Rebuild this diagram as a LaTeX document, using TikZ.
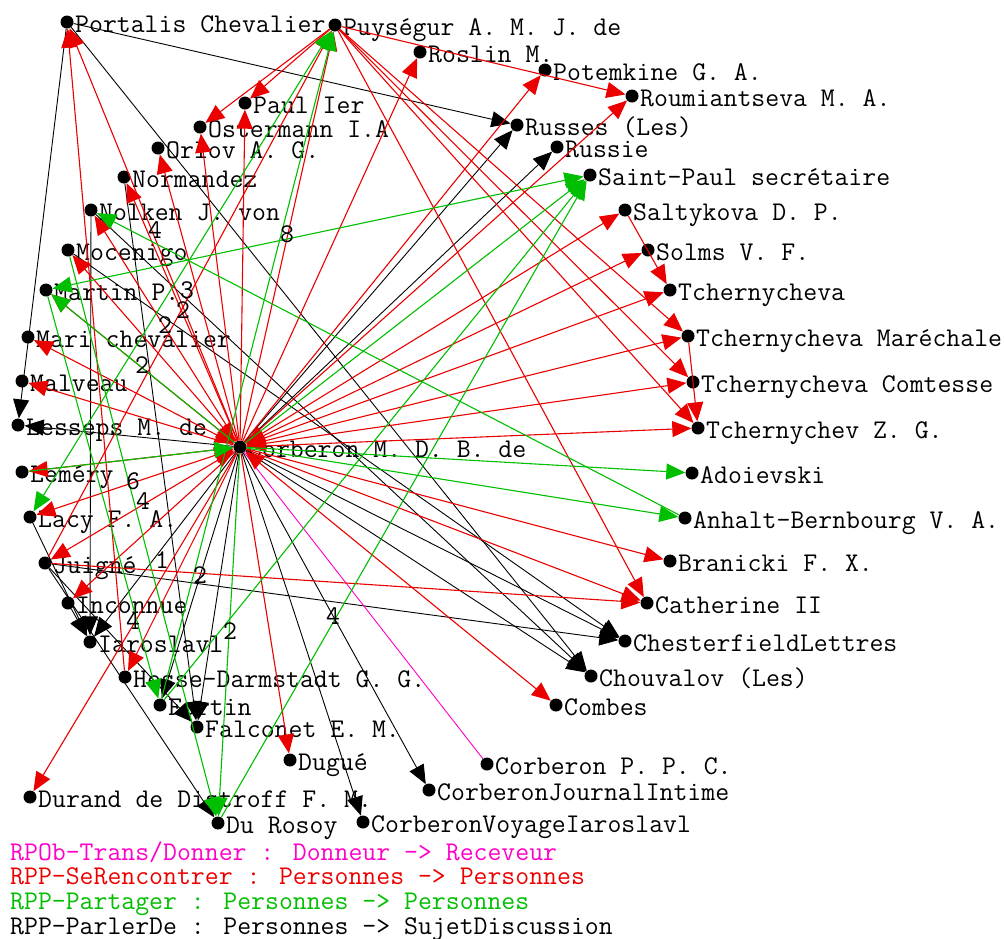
\documentclass[tikz,border=0pt]{standalone}
\usepackage{fontspec}
\usetikzlibrary{arrows.meta}
\definecolor{cred}{RGB}{235,0,0}
\definecolor{cgreen}{RGB}{0,190,0}
\definecolor{cmag}{RGB}{255,0,200}
\tikzset{
  dot/.style={circle,fill=black,inner sep=0pt,minimum size=13pt},
  lbl/.style={anchor=base west,inner sep=0pt,font=\ttfamily\fontsize{27}{27}\selectfont},
  num/.style={inner sep=0pt,font=\ttfamily\fontsize{27}{27}\selectfont},
  leg/.style={anchor=base west,inner sep=0pt,font=\ttfamily\fontsize{27}{27}\selectfont},
  tipb/.style={-{Triangle[length=19pt,width=16pt]}},
  tipbb/.style={{Triangle[length=19pt,width=16pt]}-{Triangle[length=19pt,width=16pt]}},
  er/.style={draw=cred,line width=1.1pt,tipb},
  erb/.style={draw=cred,line width=1.1pt,tipbb},
  eg/.style={draw=cgreen,line width=1.1pt,tipb},
  egb/.style={draw=cgreen,line width=1.1pt,tipbb},
  ek/.style={draw=black,line width=0.9pt,tipb},
  em/.style={draw=cmag,line width=0.9pt},
}
\begin{document}
\begin{tikzpicture}[x=1pt,y=-1pt]
\useasboundingbox (0,0) rectangle (1004,938);
% ---------- dots ----------
\foreach \n/\x/\y in {portalis/67/22, puysegur/335/25, roslin/420/52, potemkine/545/70,
  roumiantseva/632/96, paul/245/103, ostermann/200/127, orlov/158/148, normandez/124/177,
  nolken/91/210, mocenigo/68/250, martin/46/290, mari/28/337, malveau/22/381,
  lesseps/18/425, lemery/22/472, lacy/30/517, juigne/45/563, inconnue/68/603,
  iaroslavl/90/642, hesse/125/677, fortin/160/705, falconet/197/727, dugue/290/760,
  durand/30/797, durosoy/218/823, cvoyage/363/822, cjournal/429/790, cppc/487/764,
  combes/556/705, chouvalov/591/676, chesterfield/625/641, catherine/647/603,
  branicki/670/561, anhalt/685/518, adoievski/692/473, tzg/698/428, tcomtesse/693/382,
  tmarechale/688/336, tcherny/670/290, solms/648/250, saltykova/625/210,
  saintpaul/590/175, russie/557/147, russes/517/125, center/240/447}
  {\node[dot] (\n) at (\x,\y) {};}
% ---------- labels ----------
\foreach \n/\t in {portalis/Portalis Chevalier, puysegur/Puységur A. M. J. de, roslin/Roslin M.,
  potemkine/Potemkine G. A., roumiantseva/Roumiantseva M. A., paul/Paul Ier,
  ostermann/Ostermann I.A, orlov/Orlov A. G., normandez/Normandez, nolken/Nolken J. von,
  mocenigo/Mocenigo, martin/Martin P., mari/Mari chevalier, malveau/Malveau,
  lesseps/Lesseps M. de, lemery/Leméry, lacy/Lacy F. A., juigne/Juigné,
  inconnue/Inconnue, iaroslavl/Iaroslavl, hesse/Hesse-Darmstadt G. G., fortin/Fortin,
  falconet/Falconet E. M., dugue/Dugué, durand/Durand de Distroff F. M., durosoy/Du Rosoy,
  cvoyage/CorberonVoyageIaroslavl, cjournal/CorberonJournalIntime, cppc/Corberon P. P. C.,
  combes/Combes, chouvalov/Chouvalov (Les), chesterfield/ChesterfieldLettres,
  catherine/Catherine II, branicki/Branicki F. X., anhalt/Anhalt-Bernbourg V. A.,
  adoievski/Adoievski, tzg/Tchernychev Z. G., tcomtesse/Tchernycheva Comtesse,
  tmarechale/Tchernycheva Maréchale, tcherny/Tchernycheva, solms/Solms V. F.,
  saltykova/Saltykova D. P., saintpaul/Saint-Paul secrétaire, russie/Russie,
  russes/Russes (Les), center/Corberon M. D. B. de}
  {\node[lbl] (\n-l) at ([xshift=8pt,yshift=-10pt]\n.center) {\t};}
% ---------- black: ParlerDe ----------
\draw[ek] (portalis) -- (russes);
\draw[ek] (portalis) -- (lesseps);
\draw[ek] (portalis) -- (chouvalov);
\draw[ek] (center) -- (russes);
\draw[ek] (center) -- (russie);
\draw[ek] (center) -- (lesseps);
\draw[ek] (center) -- (cvoyage);
\draw[ek] (center) -- (cjournal);
\draw[ek] (center) -- (chouvalov);
\draw[ek] (center) -- (chesterfield);
\draw[ek] (center) -- (falconet);
\draw[ek] (center) -- (iaroslavl);
\draw[ek] (center) -- (fortin);
\draw[ek] (nolken) -- (iaroslavl);
\draw[ek] (normandez) -- (falconet);
\draw[ek] (juigne) -- (chesterfield);
\draw[ek] (juigne) -- (durosoy);
\draw[ek] (lacy) -- (iaroslavl);
\draw[ek] (juigne) -- (falconet);
\draw[ek] (nolken) -- (chouvalov);
\draw[ek] (mocenigo) -- (chesterfield);
\draw[ek] (inconnue) -- (iaroslavl);
% ---------- magenta ----------
\draw[em] (center) -- (cppc);
% ---------- red: SeRencontrer ----------
\foreach \t in {portalis, puysegur, roslin, potemkine, roumiantseva, paul, ostermann, orlov,
  normandez, nolken, malveau, lemery, inconnue, hesse, durand, dugue,
  catherine, branicki, tzg, tmarechale}
  {\draw[er] (center) -- (\t);}
\foreach \t in {mocenigo, martin, mari, lacy, juigne, combes, tcomtesse, tcherny, solms, saltykova}
  {\draw[erb] (center) -- (\t);}
\draw[er] (puysegur) -- (paul);
\draw[er] (puysegur) -- (ostermann);
\draw[er] (puysegur) -- (tmarechale);
\draw[er] (puysegur) -- (tcomtesse);
\draw[er] (puysegur) -- (tzg);
\draw[er] (puysegur) -- (catherine);
\draw[er] (puysegur) -- (roumiantseva);
\draw[er] (juigne) -- (catherine);
\draw[er] (juigne) -- (puysegur);
\draw[er] (hesse) -- (portalis);
\draw[er] (saltykova) -- (tcherny);
\draw[er] (tmarechale) -- (tzg);
% ---------- green: Partager ----------
\draw[eg] (center) -- (adoievski);
\draw[eg] (center) -- (anhalt);
\draw[eg] (anhalt) -- (nolken);
\draw[egb] (saintpaul) -- (martin);
\draw[eg] (durosoy) -- (saintpaul);
\draw[eg] (fortin) -- (saintpaul);
\draw[eg] (center) -- (saintpaul);
\draw[egb] (puysegur) -- (lacy);
\draw[eg] (fortin) -- (puysegur);
\draw[eg] (center) -- (durosoy);
\draw[eg] (center) -- (martin);
\draw[eg] (martin) -- (fortin);
\draw[eg] (mocenigo) -- (durosoy);
\draw[eg] (lemery) -- (center);
% ---------- edge counts ----------
\node[num] (k1) at (155,230) {4};
\node[num] (k2) at (287,234) {8};
\node[num] (k3) at (187,290) {3};
\node[num] (k4) at (183,310) {2};
\node[num] (k5) at (165,325) {2};
\node[num] (k6) at (142,365) {2};
\node[num] (k7) at (133,481) {6};
\node[num] (k8) at (143,501) {4};
\node[num] (k9) at (162,560) {1};
\node[num] (k10) at (200,575) {2};
\node[num] (k11) at (133,621) {4};
\node[num] (k12) at (230,631) {2};
\node[num] (k13) at (333,616) {4};
% ---------- legend ----------
\node[leg,text=cmag] (leg1) at (10,860) {RPOb-Trans/Donner : Donneur -> Receveur};
\node[leg,text=cred] (leg2) at (10,884) {RPP-SeRencontrer : Personnes -> Personnes};
\node[leg,text=cgreen] (leg3) at (10,909) {RPP-Partager : Personnes -> Personnes};
\node[leg,text=black] (leg4) at (10,934) {RPP-ParlerDe : Personnes -> SujetDiscussion};
\end{tikzpicture}
\end{document}
